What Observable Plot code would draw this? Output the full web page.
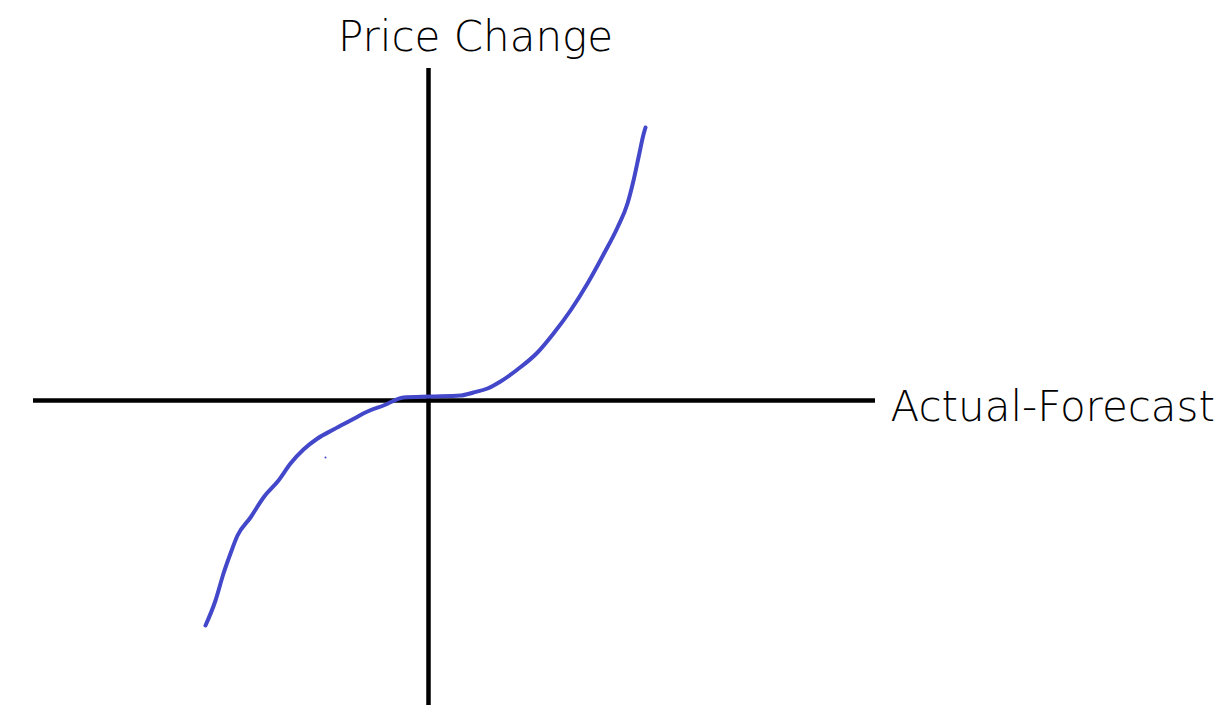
<!DOCTYPE html>
<html>
<head>
<meta charset="utf-8">
<script src="https://cdn.jsdelivr.net/npm/d3@7"></script>
<script src="https://cdn.jsdelivr.net/npm/@observablehq/plot@0.6"></script>
<style>
  html, body { margin: 0; padding: 0; background: #fff; }
  #chart svg { display: block; }
</style>
</head>
<body>
<div id="chart"></div>
<script>
// Hand-drawn curve (units: axis offsets)
const curveX = [-2.23, -2.13, -2.05, -1.98, -1.91, -1.78, -1.65, -1.50, -1.38, -1.25, -1.11, -0.95, -0.78, -0.61, -0.45, -0.25, 0.02, 0.32, 0.45, 0.59, 0.72, 0.89, 1.09, 1.25, 1.42, 1.59, 1.75, 1.89, 1.99, 2.05, 2.10, 2.15, 2.17];
const curveY = [-2.25, -2.00, -1.73, -1.53, -1.35, -1.17, -0.97, -0.80, -0.63, -0.49, -0.38, -0.29, -0.20, -0.11, -0.05, 0.03, 0.04, 0.05, 0.08, 0.12, 0.19, 0.31, 0.48, 0.67, 0.90, 1.17, 1.46, 1.73, 1.97, 2.20, 2.43, 2.66, 2.73];
const strayX = [-1.03];
const strayY = [-0.57];

const axisXExtent = [-3.95, 4.47];
const axisYExtent = [-3.05, 3.32];

const yLabel = "Price Change";
const xLabel = "Actual-Forecast";

const curve = curveX.map((x, i) => ({x, y: curveY[i]}));
const stray = strayX.map((x, i) => ({x, y: strayY[i]}));

const chart = Plot.plot({
  width: 1226,
  height: 721,
  margin: 0,
  x: {domain: [-4.28, 7.98], axis: null},
  y: {domain: [-3.21, 4.00], axis: null},
  marks: [
    Plot.ruleY([0], {x1: axisXExtent[0], x2: axisXExtent[1], stroke: "#000", strokeWidth: 4.5}),
    Plot.ruleX([0], {y1: axisYExtent[0], y2: axisYExtent[1], stroke: "#000", strokeWidth: 4.5}),
    Plot.line(curve, {x: "x", y: "y", stroke: "#4347c9", strokeWidth: 4, curve: "monotone-x"}),
    Plot.dot(stray, {x: "x", y: "y", r: 1, fill: "#4347c9", stroke: null}),
    Plot.text([yLabel], {x: 0.47, y: 3.63, text: d => d, fontSize: 42, fill: "#000",
      fontFamily: "'DejaVu Sans', sans-serif", fontWeight: 300, textAnchor: "middle"}),
    Plot.text([xLabel], {x: 4.62, y: -0.07, text: d => d, fontSize: 42, fill: "#000",
      fontFamily: "'DejaVu Sans', sans-serif", fontWeight: 300, textAnchor: "start"})
  ]
});
document.getElementById("chart").appendChild(chart);
</script>
</body>
</html>
